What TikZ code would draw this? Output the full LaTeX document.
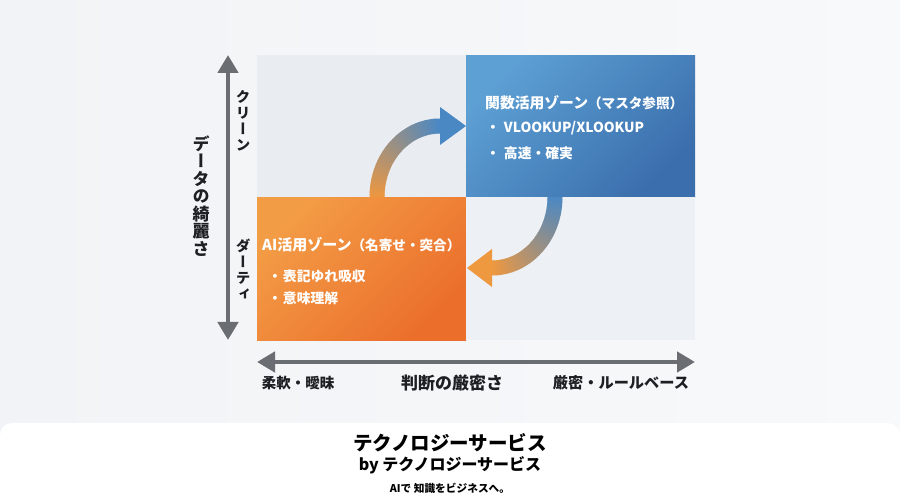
\documentclass[tikz,border=0pt]{standalone}
\usepackage{fontspec}
\setmainfont{Noto Sans CJK JP}
\newfontfamily\jpv{Noto Sans CJK JP}[RawFeature=+vert]
\usetikzlibrary{arrows.meta,calc}
\definecolor{bgc}{HTML}{F1F3F6}
\definecolor{quadgray}{HTML}{E9EDF2}
\definecolor{quadgray2}{HTML}{EDF0F4}
\definecolor{blueL}{HTML}{5DA0D4}
\definecolor{blueD}{HTML}{3A6EAC}
\definecolor{orL}{HTML}{F39C46}
\definecolor{orD}{HTML}{EB6E2B}
\definecolor{arOr}{HTML}{EE9840}
\definecolor{arBl}{HTML}{4A88C4}
\definecolor{axisgray}{HTML}{6A6E72}
\definecolor{txt}{HTML}{1E1F22}
\tikzset{
  quad/.style={rectangle, inner sep=0pt, anchor=north west, draw=none},
  axisline/.style={draw=axisgray, line width=4.5pt, {Triangle[length=18pt,width=20pt]}-{Triangle[length=18pt,width=20pt]}},
  boxtitle/.style={inner sep=0pt, anchor=west, text=white, font=\bfseries},
  bullet/.style={inner sep=0pt, anchor=west, text=white, font=\bfseries\fontsize{13.8}{16}\selectfont},
  vlabel/.style={inner sep=0pt, align=center, text=txt},
  hlabel/.style={inner sep=0pt, text=txt, font=\bfseries\fontsize{14.5}{17}\selectfont},
  foot/.style={inner sep=0pt, text=black, font=\bfseries}
}
\begin{document}
\begin{tikzpicture}[x=1pt,y=-1pt]
\path[use as bounding box] (0,0) rectangle (900,502);
% background
\shade[left color=bgc, right color=white!50!bgc] (0,0) rectangle (900,502);
% quadrants
\node[quad, fill=quadgray, minimum width=209pt, minimum height=142pt] (tl) at (257,55) {};
\node[quad, top color=blueL, bottom color=blueD, shading angle=45, minimum width=229pt, minimum height=142pt] (tr) at (466,55) {};
\node[quad, top color=orL, bottom color=orD, shading angle=45, minimum width=209pt, minimum height=143pt] (bl) at (257,197) {};
\node[quad, fill=quadgray2, minimum width=229pt, minimum height=143pt] (br) at (466,197) {};
% box texts
\node[boxtitle] (trt) at (485,103) {\fontsize{14.8}{17}\selectfont 関数活用ゾーン\fontsize{13.6}{17}\selectfont（マスタ参照）};
\node[bullet] (trb1) at (486,128) {・\hspace{4pt}VLOOKUP/XLOOKUP};
\node[bullet] (trb2) at (486,153) {・\hspace{4pt}高速・確実};
\node[boxtitle] (blt) at (262,245) {\fontsize{15}{17}\selectfont AI活用ゾーン\fontsize{13.6}{17}\selectfont（名寄せ・突合）};
\node[bullet] (blb1) at (268,276) {・\hspace{1pt}表記ゆれ吸収};
\node[bullet] (blb2) at (268,298) {・\hspace{1pt}意味理解};
% curved arrow 1 (orange -> blue)
\coordinate (a1s) at (377,197);
\coordinate (a1e) at (440,126);
\coordinate (a1tip) at (466,126);
\foreach \i in {0,...,44}{
  \pgfmathsetmacro{\aa}{180-2*\i+0.6*(\i>0)}
  \pgfmathsetmacro{\ab}{180-2*(\i+1)}
  \pgfmathsetmacro{\pc}{100-100*(\i+0.5)/45}
  \draw[line width=15pt, color=arOr!\pc!arBl] ({440+63*cos(\aa)},{197-71*sin(\aa)}) -- ({440+63*cos(\ab)},{197-71*sin(\ab)});
}
\fill[arBl] (a1tip) -- ($(a1e)+(0,-19)$) -- ($(a1e)+(0,19)$) -- cycle;
% curved arrow 2 (blue -> orange)
\coordinate (a2s) at (555,197);
\coordinate (a2e) at (492,268);
\coordinate (a2tip) at (467,268);
\foreach \i in {0,...,44}{
  \pgfmathsetmacro{\aa}{2*\i-0.6*(\i>0)}
  \pgfmathsetmacro{\ab}{2*(\i+1)}
  \pgfmathsetmacro{\pc}{100*(\i+0.5)/45}
  \draw[line width=15pt, color=arOr!\pc!arBl] ({492+63*cos(\aa)},{197+71*sin(\aa)}) -- ({492+63*cos(\ab)},{197+71*sin(\ab)});
}
\fill[arOr] (a2tip) -- ($(a2e)+(0,-19)$) -- ($(a2e)+(0,19)$) -- cycle;
% axes
\coordinate (vtop) at (228,55);
\coordinate (vbot) at (228,340);
\draw[axisline] (vtop) -- (vbot);
\coordinate (hl) at (257,362);
\coordinate (hr) at (695,362);
\draw[axisline] (hl) -- (hr);
% vertical labels
\node[vlabel, font=\jpv\bfseries\fontsize{14.5}{16}\selectfont] (clean) at (243,121) {ク\\リ\\ー\\ン};
\node[vlabel, font=\jpv\bfseries\fontsize{14.5}{16}\selectfont] (dirty) at (243,269) {ダ\\ー\\テ\\ィ};
\node[vlabel, font=\jpv\bfseries\fontsize{17}{17.5}\selectfont] (ylab) at (201,196) {デ\\ー\\タ\\の\\綺\\麗\\さ};
% horizontal labels
\node[hlabel] (soft) at (298,383) {柔軟・曖昧};
\node[hlabel, font=\bfseries\fontsize{17}{20}\selectfont] (xlab) at (452,383) {判断の厳密さ};
\node[hlabel, font=\bfseries\fontsize{15.2}{18}\selectfont] (strict) at (621,383) {厳密・ルールベース};
% footer
\fill[white, rounded corners=12pt] (0,423) rectangle (900,520);
\node[foot, font=\bfseries\fontsize{19.5}{22}\selectfont] (f1) at (450,443) {テクノロジーサービス};
\node[foot, font=\bfseries\fontsize{16}{19}\selectfont] (f2) at (450,465) {by テクノロジーサービス};
\node[foot, font=\bfseries\fontsize{10.7}{13}\selectfont] (f3) at (450,488) {AIで 知識をビジネスへ。};
\end{tikzpicture}
\end{document}
